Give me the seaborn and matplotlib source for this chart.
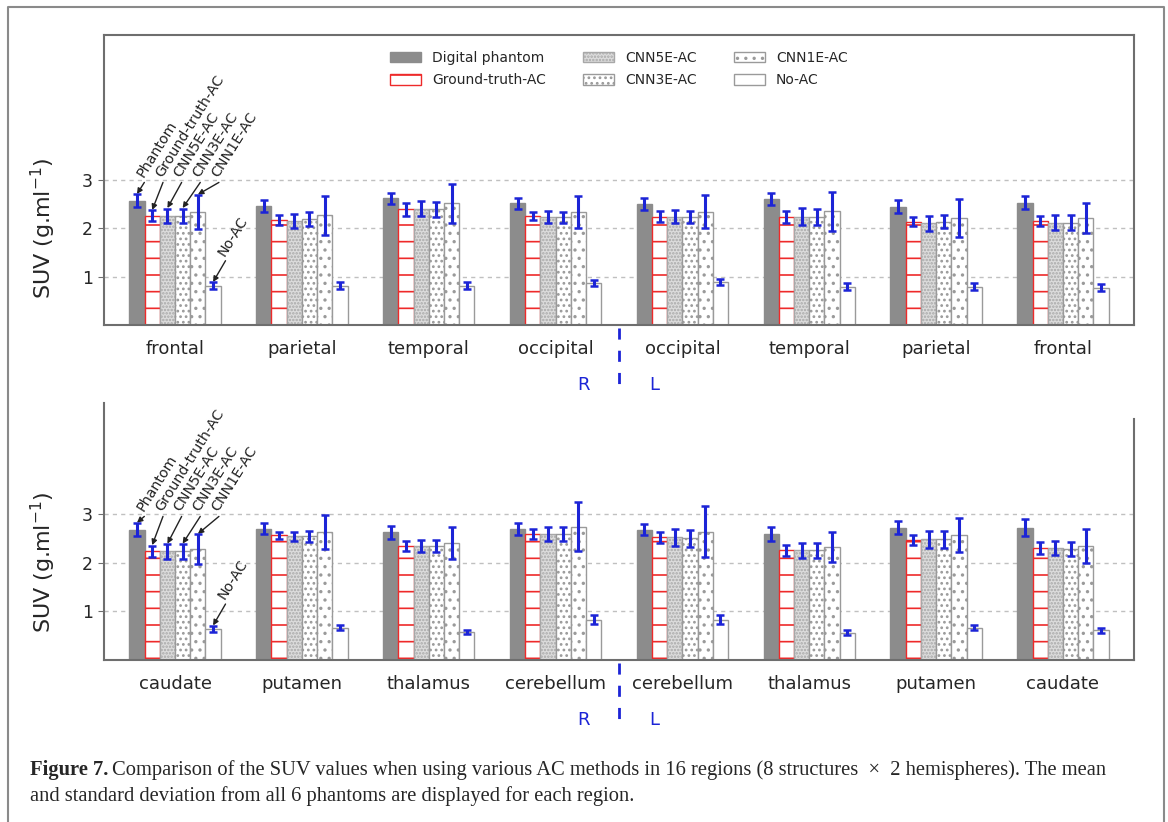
import pandas as pd
import matplotlib
matplotlib.use('Agg')
import matplotlib.pyplot as plt
import matplotlib.transforms as mtransforms
from matplotlib.lines import Line2D
import seaborn as sns

# Methods (legend order) and the short names used for the arrows
methods = ['Digital phantom', 'Ground-truth-AC', 'CNN5E-AC', 'CNN3E-AC', 'CNN1E-AC', 'No-AC']
arrow_names = ['Phantom', 'Ground-truth-AC', 'CNN5E-AC', 'CNN3E-AC', 'CNN1E-AC', 'No-AC']

# Regions: right hemisphere then left hemisphere
cortex_regions = ['frontal', 'parietal', 'temporal', 'occipital',
                  'occipital', 'temporal', 'parietal', 'frontal']
deep_regions = ['caudate', 'putamen', 'thalamus', 'cerebellum',
                'cerebellum', 'thalamus', 'putamen', 'caudate']

# Mean SUV, one row per method
cortex_mean = [
    [2.57, 2.46, 2.62, 2.52, 2.50, 2.61, 2.45, 2.53],
    [2.26, 2.17, 2.39, 2.26, 2.24, 2.24, 2.14, 2.15],
    [2.26, 2.15, 2.41, 2.23, 2.24, 2.24, 2.10, 2.12],
    [2.26, 2.19, 2.39, 2.23, 2.24, 2.24, 2.14, 2.12],
    [2.34, 2.27, 2.52, 2.34, 2.34, 2.35, 2.21, 2.21],
    [0.81, 0.81, 0.81, 0.87, 0.89, 0.79, 0.79, 0.77],
]
cortex_sd = [
    [0.13, 0.13, 0.12, 0.11, 0.12, 0.13, 0.14, 0.13],
    [0.11, 0.10, 0.13, 0.08, 0.11, 0.12, 0.10, 0.10],
    [0.15, 0.15, 0.16, 0.12, 0.13, 0.18, 0.16, 0.16],
    [0.15, 0.15, 0.15, 0.11, 0.12, 0.17, 0.14, 0.16],
    [0.35, 0.40, 0.40, 0.33, 0.34, 0.40, 0.39, 0.31],
    [0.07, 0.07, 0.07, 0.06, 0.07, 0.07, 0.07, 0.07],
]
deep_mean = [
    [2.68, 2.70, 2.62, 2.69, 2.68, 2.59, 2.72, 2.72],
    [2.23, 2.56, 2.34, 2.59, 2.52, 2.25, 2.47, 2.30],
    [2.23, 2.54, 2.34, 2.59, 2.52, 2.25, 2.48, 2.30],
    [2.23, 2.54, 2.34, 2.59, 2.50, 2.25, 2.48, 2.28],
    [2.28, 2.63, 2.41, 2.74, 2.64, 2.32, 2.57, 2.35],
    [0.64, 0.66, 0.58, 0.83, 0.83, 0.56, 0.66, 0.61],
]
deep_sd = [
    [0.13, 0.12, 0.14, 0.13, 0.12, 0.14, 0.14, 0.17],
    [0.12, 0.08, 0.11, 0.10, 0.12, 0.12, 0.10, 0.12],
    [0.15, 0.09, 0.12, 0.15, 0.17, 0.15, 0.17, 0.15],
    [0.15, 0.11, 0.12, 0.15, 0.18, 0.15, 0.17, 0.15],
    [0.30, 0.34, 0.33, 0.50, 0.52, 0.30, 0.35, 0.35],
    [0.06, 0.05, 0.04, 0.09, 0.10, 0.05, 0.05, 0.05],
]

# bar styles per method
face_colors = ['#8c8c8c', 'white', '#dcdcdc', 'white', 'white', 'white']
edge_colors = ['#8c8c8c', '#ee2a2a', '#a8a8a8', '#9a9a9a', '#9a9a9a', '#9a9a9a']
hatches = [None, '-', '.....', '...', '..', None]
# horizontal shift of each rotated name from its bar centre
name_dx = [0.07, 0.097, 0.124, 0.151, 0.178, 0.11]
blue = '#1c24d6'
spine_gray = '#6e6e6e'

sns.set_style('white')
plt.rcParams['font.family'] = ['DejaVu Sans']
plt.rcParams['hatch.linewidth'] = 1.2

W, H = 1168, 822
fig = plt.figure(figsize=(W / 100, H / 100), dpi=100)
ax_top = fig.add_axes([104 / W, 1 - 325 / H, 1030 / W, 290 / H])
ax_bot = fig.add_axes([104 / W, 1 - 660 / H, 1030 / W, 257 / H])


def draw_panel(ax, names, mean, sd, ymax, legend):
    rows = []
    for m, method in enumerate(methods):
        for r in range(len(names)):
            rows.append({'slot': r, 'method': method, 'suv': mean[m][r]})
    df = pd.DataFrame(rows)
    sns.barplot(data=df, x='slot', y='suv', hue='method', hue_order=methods,
                width=0.72, errorbar=None, legend=False, ax=ax)
    bars = list(ax.containers)
    for m, cont in enumerate(bars):
        for p in cont.patches:
            p.set_facecolor(face_colors[m])
            p.set_edgecolor(edge_colors[m])
            p.set_linewidth(1.0)
            if hatches[m]:
                p.set_hatch(hatches[m])
        xs = [p.get_x() + p.get_width() / 2 for p in cont.patches]
        ax.errorbar(xs, mean[m], yerr=sd[m], fmt='none', ecolor=blue,
                    elinewidth=2.2, capsize=3.2, capthick=1.8, zorder=5)

    # arrows + rotated names on the first region
    for m, cont in enumerate(bars):
        p = cont.patches[0]
        xc = p.get_x() + p.get_width() / 2
        top = mean[m][0] + sd[m][0]
        ty = top + 0.5 if m == len(methods) - 1 else 3.0
        tx = xc + name_dx[m]
        ax.text(tx, ty, arrow_names[m], rotation=58, rotation_mode='anchor',
                ha='left', va='bottom', fontsize=10.3, color='#222222')
        ax.annotate('', xy=(xc, top + 0.01), xytext=(tx - 0.012, ty - 0.05),
                    arrowprops=dict(arrowstyle='-|>', color='#222222', lw=1.0,
                                    mutation_scale=8, shrinkA=0, shrinkB=0))

    ax.set_xlim(-0.56, len(names) - 0.44)
    ax.set_ylim(0, ymax)
    ax.set_yticks([1, 2, 3])
    ax.set_xticks(range(len(names)))
    ax.set_xticklabels(names, fontsize=13)
    ax.set_xlabel('')
    ax.set_ylabel('SUV (g.ml$^{-1}$)', fontsize=16)
    ax.yaxis.set_label_coords(-0.045, 2.0,
                              transform=mtransforms.blended_transform_factory(ax.transAxes, ax.transData))
    ax.tick_params(axis='x', length=0, pad=11)
    ax.tick_params(axis='y', length=4, color=spine_gray, labelsize=12.5, pad=4, left=True)
    ax.yaxis.grid(True, linestyle=(0, (3, 3)), color='#c0c0c0', lw=1)
    ax.set_axisbelow(True)
    for s in ax.spines.values():
        s.set_color(spine_gray)
        s.set_linewidth(1.5)

    # hemisphere split
    h_px = ax.get_position().height * H
    blend = mtransforms.blended_transform_factory(ax.transData, ax.transAxes)
    mid = (len(names) - 1) / 2
    ax.plot([mid, mid], [-3 / h_px, -60 / h_px], transform=blend, clip_on=False,
            color=blue, lw=2, dashes=(4, 4))
    ax.text(mid - 0.28, -60 / h_px, 'R', transform=blend, ha='center', va='center',
            color=blue, fontsize=13)
    ax.text(mid + 0.28, -60 / h_px, 'L', transform=blend, ha='center', va='center',
            color=blue, fontsize=13)

    if legend:
        ax.legend(bars, methods, ncol=3, loc='upper center', bbox_to_anchor=(0.5, 0.988),
                  frameon=False, fontsize=10, handlelength=2.2, handleheight=0.8,
                  columnspacing=2.7, handletextpad=0.8, labelspacing=0.6)


draw_panel(ax_top, cortex_regions, cortex_mean, cortex_sd, 6.0, True)
draw_panel(ax_bot, deep_regions, deep_mean, deep_sd, 5.28, False)
ax_bot.spines['top'].set_visible(False)
ax_bot.spines['right'].set_bounds(0, 4.95)

# page frame
fig.add_artist(Line2D([8 / W, 8 / W, 1164 / W, 1164 / W], [0, 1 - 7 / H, 1 - 7 / H, 0],
                      transform=fig.transFigure, color='#8a8a8a', lw=1.5))

# caption
cap_font = ['Liberation Serif', 'DejaVu Serif']
t1 = fig.text(30 / W, 1 - 770 / H, 'Figure 7.', fontweight='bold', family=cap_font,
              fontsize=14.8, va='center')
fig.canvas.draw()
bb = t1.get_window_extent()
fig.text((bb.x1 + 4) / W, 1 - 770 / H,
         'Comparison of the SUV values when using various AC methods in 16 regions '
         '(8 structures  \u00d7  2 hemispheres). The mean',
         family=cap_font, fontsize=14.8, va='center')
fig.text(30 / W, 1 - 796 / H,
         'and standard deviation from all 6 phantoms are displayed for each region.',
         family=cap_font, fontsize=14.8, va='center')

fig.savefig('out.png', dpi=100)
